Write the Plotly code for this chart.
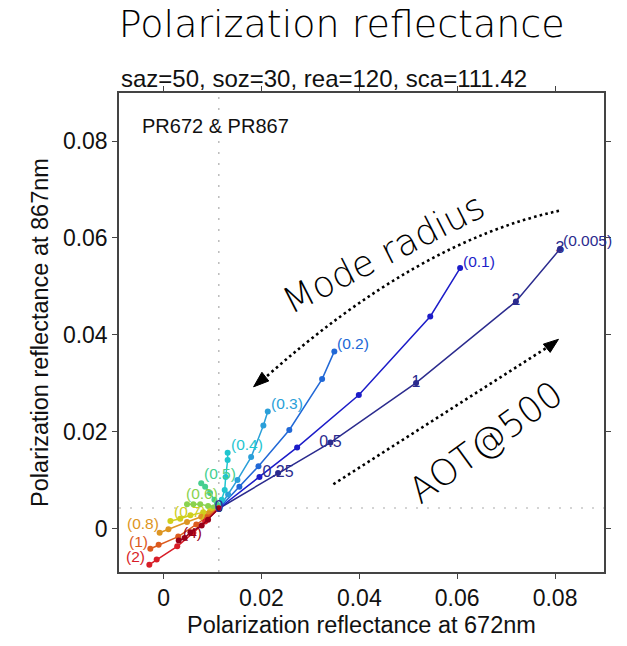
import plotly.graph_objects as go

# ---------------- data ----------------
mode_radius = ["0.005", "0.1", "0.2", "0.3", "0.4", "0.5", "0.6", "0.7", "0.8", "1", "2", "4"]
aot_labels = ["0", "0.25", "0.5", "1", "2", "3"]   # AOT@500 at each point (first = origin)

pr672_r0005 = [0.0113, 0.0234, 0.0341, 0.0516, 0.0720, 0.0810]
pr867_r0005 = [0.0042, 0.0115, 0.0178, 0.0301, 0.0469, 0.0577]
pr672_r01 = [0.0113, 0.0196, 0.0273, 0.0399, 0.0545, 0.0606]
pr867_r01 = [0.0042, 0.0107, 0.0168, 0.0276, 0.0438, 0.0538]
pr672_r02 = [0.0113, 0.0155, 0.0194, 0.0257, 0.0324, 0.0349]
pr867_r02 = [0.0042, 0.0087, 0.0129, 0.0204, 0.0309, 0.0366]
pr672_r03 = [0.0113, 0.0132, 0.0151, 0.0179, 0.0204, 0.0213]
pr867_r03 = [0.0042, 0.0071, 0.0101, 0.0148, 0.0213, 0.0242]
pr672_r04 = [0.0113, 0.0119, 0.0125, 0.0127, 0.0131, 0.0131]
pr867_r04 = [0.0042, 0.0060, 0.0080, 0.0107, 0.0142, 0.0157]
pr672_r05 = [0.0113, 0.0109, 0.0104, 0.0095, 0.0085, 0.0077]
pr867_r05 = [0.0042, 0.0051, 0.0060, 0.0074, 0.0087, 0.0094]
pr672_r06 = [0.0113, 0.0102, 0.0091, 0.0075, 0.0061, 0.0048]
pr867_r06 = [0.0042, 0.0044, 0.0047, 0.0051, 0.0051, 0.0051]
pr672_r07 = [0.0113, 0.0095, 0.0081, 0.0055, 0.0034, 0.0014]
pr867_r07 = [0.0042, 0.0037, 0.0034, 0.0028, 0.0021, 0.0016]
pr672_r08 = [0.0113, 0.0093, 0.0077, 0.0048, 0.0010, -0.0008]
pr867_r08 = [0.0042, 0.0032, 0.0025, 0.0014, -0.0001, -0.0008]
pr672_r1 = [0.0113, 0.0089, 0.0067, 0.0030, -0.0010, -0.0027]
pr867_r1 = [0.0042, 0.0024, 0.0009, -0.0016, -0.0033, -0.0041]
pr672_r2 = [0.0113, 0.0085, 0.0061, 0.0028, -0.0014, -0.0029]
pr867_r2 = [0.0042, 0.0015, -0.0008, -0.0036, -0.0063, -0.0074]
pr672_r4 = [0.0113, 0.0091, 0.0078, 0.0055, 0.0043, 0.0031]
pr867_r4 = [0.0042, 0.0019, 0.0007, -0.0007, -0.0019, -0.0024]

pr672_all = [pr672_r0005, pr672_r01, pr672_r02, pr672_r03, pr672_r04, pr672_r05,
             pr672_r06, pr672_r07, pr672_r08, pr672_r1, pr672_r2, pr672_r4]
pr867_all = [pr867_r0005, pr867_r01, pr867_r02, pr867_r03, pr867_r04, pr867_r05,
             pr867_r06, pr867_r07, pr867_r08, pr867_r1, pr867_r2, pr867_r4]

# reference (Rayleigh-only) point lines
ref_pr672 = 0.0113
ref_pr867 = 0.0043

x_ticks = [0, 0.02, 0.04, 0.06, 0.08]
y_ticks = [0, 0.02, 0.04, 0.06, 0.08]

# ---------------- styles ----------------
colors = ["#2b2b8e", "#1c1cc8", "#2168d6", "#2a9fd9", "#1fc5cf", "#45cf8f",
          "#8ad24e", "#cfcf1c", "#dd9522", "#dc5a1e", "#d81e28", "#980018"]
lab_anchor = ["left"] * 8 + ["right", "right", "right", "left"]
lab_dx = [1, 1, 1, 1, 1, 1, -3, 2, 1, 0, -2, 2]
lab_dy = [8.5, 7, 7.6, 8, 8, 10, 10.5, 10, 9.5, 7.5, 8, 8]

TICKFONT = "Liberation Sans, Arial, sans-serif"
BIGFONT = "DejaVu Sans, sans-serif"

fig = go.Figure()

for i, name in enumerate(mode_radius):
    fig.add_trace(go.Scatter(
        x=pr672_all[i], y=pr867_all[i], mode="lines+markers",
        line=dict(color=colors[i], width=1.5),
        marker=dict(color=colors[i], size=6),
        name=name, showlegend=False, hoverinfo="skip"))

# AOT labels along the 0.005 line
fig.add_trace(go.Scatter(
    x=pr672_r0005, y=pr867_r0005, mode="text", text=aot_labels,
    textposition="middle center",
    textfont=dict(family=TICKFONT, size=16, color=colors[0]),
    showlegend=False, hoverinfo="skip"))

annotations = []
for i, name in enumerate(mode_radius):
    annotations.append(dict(
        x=pr672_all[i][-1], y=pr867_all[i][-1], xref="x", yref="y",
        text="(" + name + ")", showarrow=False,
        xanchor=lab_anchor[i], yanchor="middle",
        xshift=lab_dx[i], yshift=lab_dy[i],
        font=dict(family=TICKFONT, size=15.5, color=colors[i])))

# decorative texts
annotations += [
    dict(x=0, y=1.031, xref="paper", yref="paper", xanchor="left", yanchor="middle",
         text="saz=50, soz=30, rea=120, sca=111.42", showarrow=False,
         font=dict(family=TICKFONT, size=24, color="#111")),
    dict(x=0.043, y=0.932, xref="paper", yref="paper", xanchor="left", yanchor="middle",
         text="PR672 & PR867", showarrow=False,
         font=dict(family=TICKFONT, size=20, color="#111")),
    dict(x=0.0449, y=0.0568, xref="x", yref="y", text="Mode radius", showarrow=False,
         textangle=-27, font=dict(family=BIGFONT, size=36, color="#000", weight=300)),
    dict(x=0.0657, y=0.0179, xref="x", yref="y", text="AOT@500", showarrow=False,
         textangle=-36, font=dict(family=BIGFONT, size=36, color="#000", weight=300)),
]

shapes = [
    dict(type="line", xref="x", yref="paper", x0=ref_pr672, x1=ref_pr672, y0=0, y1=1,
         line=dict(color="#aaaaaa", width=1.2, dash="2px,9px"), layer="below"),
    dict(type="line", xref="paper", yref="y", x0=0, x1=1, y0=ref_pr867, y1=ref_pr867,
         line=dict(color="#aaaaaa", width=1.2, dash="2px,9px"), layer="below"),
    # Mode radius dotted arc + arrowhead
    dict(type="path", xref="x", yref="y",
         path="M 0.0808,0.0656 Q 0.0520,0.0593 0.0208,0.0312",
         line=dict(color="#000", width=2.6, dash="2.6px,3.2px")),
    dict(type="path", xref="x", yref="y",
         path="M 0.0184,0.0293 L 0.0201,0.0323 L 0.0215,0.0305 Z",
         fillcolor="#000", line=dict(color="#000", width=1)),
    # AOT dotted arrow
    dict(type="line", xref="x", yref="y", x0=0.0347, y0=0.0092, x1=0.0782, y1=0.0373,
         line=dict(color="#000", width=2.6, dash="2.6px,3.2px")),
    dict(type="path", xref="x", yref="y",
         path="M 0.0807,0.0391 L 0.0776,0.0381 L 0.0790,0.0364 Z",
         fillcolor="#000", line=dict(color="#000", width=1)),
]

axis_common = dict(
    showgrid=False, zeroline=False, showline=True, linecolor="#444", linewidth=1.5,
    mirror="ticks", ticks="outside", ticklen=5, tickwidth=1.3, tickcolor="#444",
    tickfont=dict(family=TICKFONT, size=23, color="#111"),
)

fig.update_layout(
    width=627, height=646,
    margin=dict(l=119, r=23, t=93, b=69),
    paper_bgcolor="white", plot_bgcolor="white",
    title=dict(text="Polarization reflectance", x=0.545, y=0.963,
               xanchor="center", yanchor="middle",
               font=dict(family=BIGFONT, size=38, color="#000", weight=300)),
    xaxis=dict(range=[-0.0091, 0.0900], tickvals=x_ticks,
               title=dict(text="Polarization reflectance at 672nm", standoff=6,
                          font=dict(family=TICKFONT, size=23.5, color="#111")),
               **axis_common),
    yaxis=dict(range=[-0.0089, 0.0899], tickvals=y_ticks,
               title=dict(text="Polarization reflectance at 867nm", standoff=8,
                          font=dict(family=TICKFONT, size=23.5, color="#111")),
               **axis_common),
    annotations=annotations,
    shapes=shapes,
)

fig.write_html("out.html")
